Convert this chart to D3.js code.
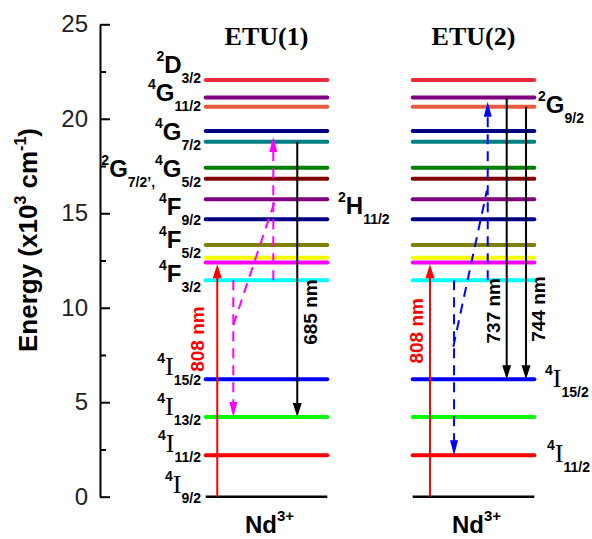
<!DOCTYPE html>
<html>
<head>
<meta charset="utf-8">
<script src="https://cdn.jsdelivr.net/npm/d3@7"></script>
<style>
  body { margin: 0; background: #fff; }
  text { font-family: "Liberation Sans", Arial, sans-serif; }
</style>
</head>
<body>
<svg id="chart" width="592" height="539"></svg>
<script>
// ---- data ----
const panels = ["ETU(1)", "ETU(2)"];
const levelEnergy = [0, 2.2, 4.22, 6.22, 11.46, 12.4, 12.65, 13.32, 14.68, 15.74, 16.83, 17.41, 18.78, 19.35, 20.64, 21.13, 22.05];
const levelColor = ["#000000", "#ff0000", "#00ff00", "#0000ff", "#00ffff", "#ff00ff", "#ffff00", "#808000", "#000080",
                    "#800080", "#800000", "#008000", "#008080", "#000080", "#ea5a3c", "#800080", "#f22a3c"];
const majorTicks = [0, 5, 10, 15, 20, 25];
const minorTicks = [2.5, 7.5, 12.5, 17.5, 22.5];

// transitions: panel, x across the level (0..1), from energy, to energy, kind
const arrowPanel = [0, 0, 0, 0, 1, 1, 1, 1, 1];
const arrowX     = [0.095, 0.556, 0.227, 0.753, 0.142, 0.617, 0.34, 0.773, 0.932];
const arrowFrom  = [0, 11.46, 11.46, 18.78, 0, 11.46, 11.46, 21.13, 20.64];
const arrowTo    = [12.3, 19.03, 4.22, 4.22, 12.3, 20.9, 2.2, 6.22, 6.22];
const arrowKind  = ["pump", "etuM", "etuM", "emit", "pump", "etuB", "etuB", "emit", "emit"];

// slanted energy-transfer links (dashed)
const linkPanel = [0, 1];
const linkX0 = [0.227, 0.334], linkE0 = [9.08, 7.94];
const linkX1 = [0.571, 0.61],  linkE1 = [15.7, 16.2];

// wavelength labels attached to arrows
const waveText  = ["808 nm", "685 nm", "808 nm", "737 nm", "744 nm"];
const waveArrow = [0, 3, 4, 7, 8];
const waveE     = [8.34, 9.77, 8.78, 9.84, 9.93];

// term labels: parts of [sup, main, sub]
const leftLabels = [
  { parts: [["2", "D", "3/2"]], E: 22.41 },
  { parts: [["4", "G", "11/2"]], E: 20.94 },
  { parts: [["4", "G", "7/2"]], E: 18.88 },
  { parts: [["2", "G", "7/2\u2019,"], ["4", "G", "5/2"]], E: 16.92 },
  { parts: [["4", "F", "9/2"]], E: 14.91 },
  { parts: [["4", "F", "5/2"]], E: 13.16 },
  { parts: [["4", "F", "3/2"]], E: 11.36 },
  { parts: [["4", "I", "15/2"]], E: 6.44 },
  { parts: [["4", "I", "13/2"]], E: 4.33 },
  { parts: [["4", "I", "11/2"]], E: 2.37 },
  { parts: [["4", "I", "9/2"]], E: 0.2 }
];
const rightLabels = [
  { parts: [["2", "H", "11/2"]], E: 14.95, panel: 0 },
  { parts: [["2", "G", "9/2"]], E: 20.31, panel: 1 },
  { parts: [["4", "I", "15/2"]], E: 5.8, panel: 1 },
  { parts: [["4", "I", "11/2"]], E: 1.83, panel: 1 }
];

// ---- layout ----
const svg = d3.select("#chart");
const yScale = d3.scaleLinear().domain([0, 25]).range([496.7, 24.3]);
const band = d3.scaleBand().domain(panels).range([205.7, 534.3]).paddingInner(0.4126).paddingOuter(0);
const bw = band.bandwidth();
const xIn = d3.scaleLinear().domain([0, 1]).range([0, bw]);
const xAt = (p, u) => band(panels[p]) + xIn(u);

// axis
const axisX = 100;
const gAxis = svg.append("g").attr("transform", `translate(${axisX},0)`);
gAxis.call(d3.axisLeft(yScale).tickValues(majorTicks).tickSizeInner(-10).tickSizeOuter(0).tickPadding(12));
gAxis.append("g").call(d3.axisLeft(yScale).tickValues(minorTicks).tickSizeInner(-6).tickSizeOuter(0).tickFormat(""))
  .select(".domain").remove();
gAxis.selectAll("path.domain, line").attr("stroke", "#000").attr("stroke-width", 2);
gAxis.selectAll("text").attr("font-size", "24px").attr("fill", "#222")
  .style("font-family", '"Liberation Sans", Arial, sans-serif');

// axis title
const title = svg.append("text")
  .attr("transform", `translate(37, 240) rotate(-90)`)
  .attr("text-anchor", "middle")
  .attr("font-size", "26px").attr("font-weight", "bold");
title.append("tspan").text("Energy (x10");
title.append("tspan").attr("dy", -11).attr("font-size", "16px").text("3");
title.append("tspan").attr("dy", 11).text(" cm");
title.append("tspan").attr("dy", -11).attr("font-size", "16px").text("-1");
title.append("tspan").attr("dy", 11).text(")");

// panel titles and Nd3+
panels.forEach((p, i) => {
  const cx = band(p) + bw / 2;
  svg.append("text").attr("x", cx).attr("y", 45).attr("text-anchor", "middle")
    .style("font-family", '"Liberation Serif", "Times New Roman", serif')
    .attr("font-size", "26px").attr("font-weight", "bold").text(p);
  const nd = svg.append("text").attr("x", cx + 3).attr("y", 533).attr("text-anchor", "middle")
    .attr("font-size", "24px").attr("font-weight", "bold");
  nd.append("tspan").text("Nd");
  nd.append("tspan").attr("dy", -12).attr("font-size", "15px").text("3+");
});

// levels
panels.forEach((p, i) => {
  svg.append("g").selectAll("line").data(levelEnergy).join("line")
    .attr("x1", xAt(i, 0)).attr("x2", xAt(i, 1))
    .attr("y1", d => yScale(d)).attr("y2", d => yScale(d))
    .attr("stroke", (d, j) => levelColor[j])
    .attr("stroke-width", (d, j) => j === 0 ? 2.5 : 4)
    .attr("stroke-linecap", (d, j) => j === 0 ? "butt" : "round");
});

// slanted links
const kindColor = { pump: "#ff0000", etuM: "#ff00ff", etuB: "#0000ff", emit: "#000000" };
linkPanel.forEach((p, i) => {
  svg.append("line")
    .attr("x1", xAt(p, linkX0[i])).attr("y1", yScale(linkE0[i]))
    .attr("x2", xAt(p, linkX1[i])).attr("y2", yScale(linkE1[i]))
    .attr("stroke", p === 0 ? kindColor.etuM : kindColor.etuB)
    .attr("stroke-width", 2).attr("stroke-dasharray", "10,7");
});

// arrows
arrowPanel.forEach((p, i) => {
  const x = xAt(p, arrowX[i]);
  const y0 = yScale(arrowFrom[i]), y1 = yScale(arrowTo[i]);
  const dir = y1 < y0 ? -1 : 1;
  const kind = arrowKind[i];
  const col = kindColor[kind];
  const dashed = kind.startsWith("etu");
  const hl = dashed ? 15 : 14, hw = dashed ? 4 : 4.5;
  svg.append("line")
    .attr("x1", x).attr("x2", x)
    .attr("y1", y0).attr("y2", y1 - dir * (hl - 2))
    .attr("stroke", col).attr("stroke-width", 2)
    .attr("stroke-dasharray", dashed ? "10,7" : null);
  svg.append("path")
    .attr("d", `M${x},${y1} L${x - hw},${y1 - dir * hl} L${x + hw},${y1 - dir * hl} Z`)
    .attr("fill", col);
});

// wavelength labels
const waveOffset = [-13, 20, -7, -6.7, 19];
waveText.forEach((t, i) => {
  const a = waveArrow[i];
  const x = xAt(arrowPanel[a], arrowX[a]) + waveOffset[i];
  svg.append("text")
    .attr("transform", `translate(${x}, ${yScale(waveE[i])}) rotate(-90)`)
    .attr("text-anchor", "middle")
    .attr("font-size", "19px").attr("font-weight", "bold")
    .attr("fill", arrowKind[a] === "pump" ? "#ff0000" : "#000")
    .text(t);
});

// term labels
function termLabel(x, y, parts, anchor) {
  const t = svg.append("text").attr("x", x).attr("y", y).attr("text-anchor", anchor)
    .attr("font-weight", "bold");
  let cur = 0;
  parts.forEach(([sup, main, sub]) => {
    t.append("tspan").attr("dy", -12 - cur).attr("font-size", "14px").text(sup); cur = -12;
    const m = t.append("tspan").attr("dy", -cur).attr("font-size", "24px").text(main); cur = 0;
    if (main === "I") m.style("font-family", '"Liberation Serif", "Times New Roman", serif')
      .attr("font-weight", "normal").attr("font-size", "26px");
    t.append("tspan").attr("dy", 10 - cur).attr("font-size", "14px").text(sub); cur = 10;
  });
  return t;
}
leftLabels.forEach(l => termLabel(201, yScale(l.E), l.parts, "end"));
const rightX = [338, 538, 545, 547];
rightLabels.forEach((l, i) => termLabel(rightX[i], yScale(l.E), l.parts, "start"));
</script>
</body>
</html>
